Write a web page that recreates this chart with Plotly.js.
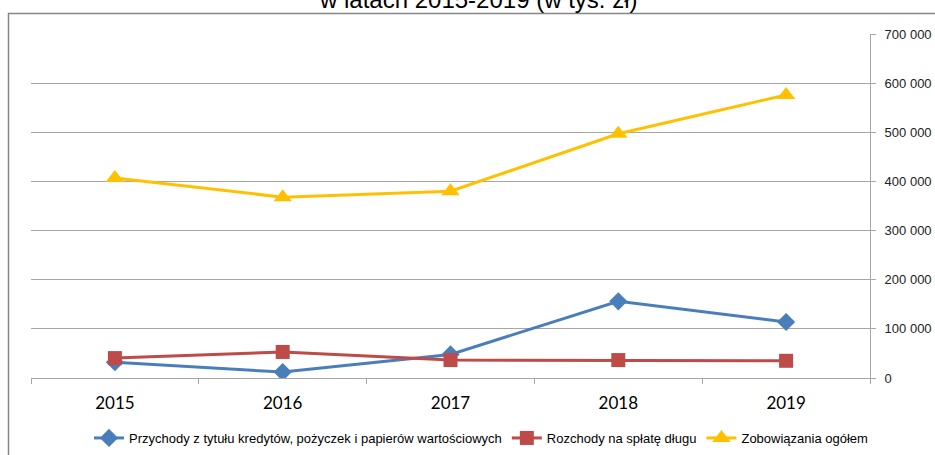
<!DOCTYPE html>
<html><head><meta charset="utf-8">
<script src="https://cdn.plot.ly/plotly-3.0.1.min.js"></script>
<style>html,body{margin:0;padding:0;background:#fff}#chart{width:935px;height:455px}</style>
</head><body><div id="chart"></div>
<script>
const years = ["2015", "2016", "2017", "2018", "2019"];
const przychody = [32000, 12000, 48000, 156000, 114000];
const rozchody = [40500, 53000, 36500, 36500, 35000];
const zobowiazania = [407000, 368000, 380000, 497000, 576000];
const seriesNames = ["Przychody z tytułu kredytów, pożyczek i papierów wartościowych", "Rozchody na spłatę długu", "Zobowiązania ogółem"];
const yTicks = [0, 100000, 200000, 300000, 400000, 500000, 600000, 700000];
const titleText = "w latach 2015-2019 (w tys. zł)";

const L = 31, R = 870, T = 34, B = 378, W = 935, H = 455;
const pw = R - L, ph = B - T;
const px = v => (v - L) / pw, py = v => (B - v) / ph;

const traces = [
  {x: years, y: przychody, name: seriesNames[0], type: "scatter", mode: "lines+markers",
   line: {color: "#4a7ebb", width: 3}, marker: {symbol: "diamond", size: 14, color: "#4a7ebb"}},
  {x: years, y: rozchody, name: seriesNames[1], type: "scatter", mode: "lines+markers",
   line: {color: "#be4b48", width: 3}, marker: {symbol: "square", size: 14, color: "#be4b48"}},
  {x: years, y: zobowiazania, name: seriesNames[2], type: "scatter", mode: "lines+markers",
   line: {color: "#ffc000", width: 3}, marker: {symbol: "triangle-up", size: 16, color: "#ffc000"}}
];

const layout = {
  width: W, height: H,
  margin: {l: L, r: W - R, t: T, b: H - B, pad: 0, autoexpand: false},
  paper_bgcolor: "#fff", plot_bgcolor: "#fff",
  separators: ", ",
  showlegend: true,
  xaxis: {type: "category", range: [-0.5, 4.5], showgrid: false, zeroline: false,
          showline: true, linecolor: "#a6a6a6", linewidth: 1,
          ticks: "outside", tickson: "boundaries", ticklen: 5, tickcolor: "#a6a6a6",
          ticklabelstandoff: 10,
          tickfont: {family: "Lato, Carlito, sans-serif", size: 17, color: "#000"}},
  yaxis: {side: "right", range: [0, 700000], tickvals: yTicks, tickformat: ",d",
          showgrid: true, gridcolor: "#a6a6a6", gridwidth: 1, zeroline: false,
          showline: true, linecolor: "#a6a6a6", linewidth: 1,
          ticks: "outside", ticklen: 5, tickcolor: "#a6a6a6", ticklabelstandoff: 6,
          tickfont: {family: "Liberation Sans, Arial", size: 13, color: "#222"}},
  legend: {orientation: "h", x: px(481), xanchor: "center", y: py(438), yanchor: "middle",
           font: {family: "Liberation Sans, Arial", size: 13, color: "#000"},
           itemwidth: 30, tracegroupgap: 0},
  annotations: [{text: titleText, xref: "paper", yref: "paper", x: px(478), y: py(15),
                 xanchor: "center", yanchor: "bottom", showarrow: false,
                 font: {family: "Liberation Sans, Arial", size: 24, color: "#000"}}],
  shapes: [{type: "rect", xref: "paper", yref: "paper",
            x0: px(8.5), x1: px(945), y0: py(13.5), y1: py(470),
            line: {color: "#868686", width: 1.5}, layer: "below"}]
};

Plotly.newPlot("chart", traces, layout, {staticPlot: true, displayModeBar: false});
</script></body></html>
